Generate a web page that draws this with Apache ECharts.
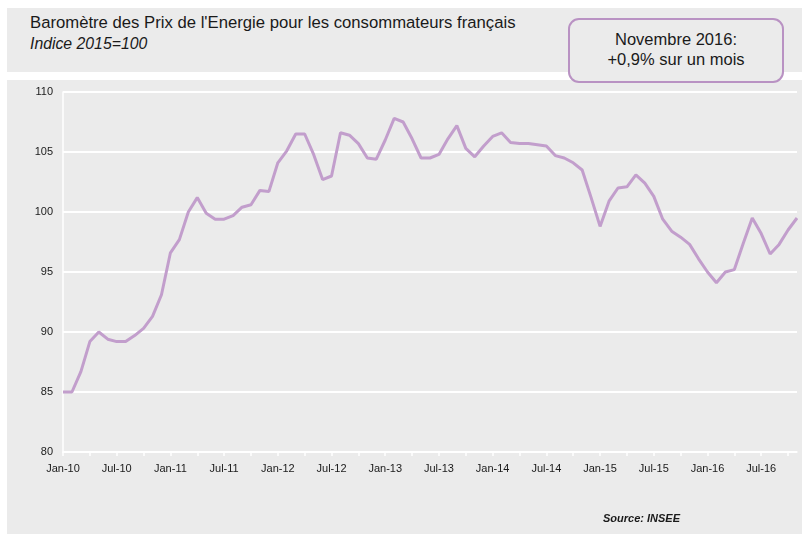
<!DOCTYPE html>
<html>
<head>
<meta charset="utf-8">
<title>Baromètre des Prix de l'Energie</title>
<script src="https://cdn.jsdelivr.net/npm/echarts@6/dist/echarts.min.js"></script>
<style>
  body { margin: 0; background: #fff; }
  #wrap { position: relative; width: 802px; height: 535px; font-family: 'Liberation Sans', Arial, sans-serif; }
  .panel { position: absolute; background: #ebebeb; }
  #head { left: 7px; top: 8px; width: 795px; height: 64px; }
  #body { left: 7px; top: 80px; width: 795px; height: 454px; }
  #t1 { position: absolute; left: 30px; top: 13px; font-size: 16.7px; color: #1a1a1a; }
  #t2 { position: absolute; left: 30px; top: 35px; font-size: 15.8px; font-style: italic; color: #1a1a1a; }
  #box {
    position: absolute; left: 568px; top: 18px; width: 216px; height: 65px;
    border: 2px solid #b992c3; border-radius: 11px; background: #ebebeb;
    text-align: center; font-size: 16.5px; line-height: 20px; color: #1a1a1a;
    box-sizing: border-box; padding-top: 9px; z-index: 2;
  }
  #chart { position: absolute; left: 0; top: 0; width: 802px; height: 535px; z-index: 1; }
</style>
</head>
<body>
<div id="wrap">
  <div class="panel" id="head"></div>
  <div class="panel" id="body"></div>
  <div id="t1">Baromètre des Prix de l'Energie pour les consommateurs français</div>
  <div id="t2">Indice 2015=100</div>
  <div id="chart"></div>
  <div id="box">Novembre 2016:<br>+0,9% sur un mois</div>
</div>
<script>
// mois abrégés et années de la série (janv. 2010 -> nov. 2016)
var monthNames = ['Jan', 'Feb', 'Mar', 'Apr', 'May', 'Jun', 'Jul', 'Aug', 'Sep', 'Oct', 'Nov', 'Dec']
var years = ['10', '11', '12', '13', '14', '15', '16']
var lastMonthCount = 11 // 2016 s'arrête en novembre

// indice 2015=100
var indexValues = [
  85.0, 85.0, 86.7, 89.2, 90.0, 89.4, 89.2, 89.2, 89.7, 90.3, 91.3, 93.1,
  96.6, 97.7, 100.0, 101.2, 99.9, 99.4, 99.4, 99.7, 100.4, 100.6, 101.8, 101.7,
  104.1, 105.1, 106.5, 106.5, 104.8, 102.7, 103.0, 106.6, 106.4, 105.7, 104.5, 104.4,
  106.0, 107.8, 107.5, 106.1, 104.5, 104.5, 104.8, 106.1, 107.2, 105.3, 104.6, 105.5,
  106.3, 106.6, 105.8, 105.7, 105.7, 105.6, 105.5, 104.7, 104.5, 104.1, 103.5, 101.2,
  98.8, 100.9, 102.0, 102.1, 103.1, 102.4, 101.3, 99.4, 98.4, 97.9, 97.3, 96.1,
  95.0, 94.1, 95.0, 95.2, 97.4, 99.5, 98.2, 96.5, 97.3, 98.5, 99.5
]

var categories = []
years.forEach(function(y, yi) {
  var n = yi === years.length - 1 ? lastMonthCount : 12
  for (var m = 0; m < n; m++) {
    categories.push(monthNames[m] + '-' + y)
  }
})

var chart = echarts.init(document.getElementById('chart'))
chart.setOption({
  animation: false,
  textStyle: { fontFamily: 'Liberation Sans, Arial, sans-serif' },
  grid: { left: 63, right: 5, top: 92, bottom: 83 },
  xAxis: {
    type: 'category',
    data: categories,
    boundaryGap: false,
    axisLine: { lineStyle: { color: '#ffffff', width: 1.5 } },
    axisTick: { interval: 2, length: 4, lineStyle: { color: '#ffffff', width: 1.5 } },
    axisLabel: { interval: 5, color: '#1a1a1a', fontSize: 11, margin: 11 },
    splitLine: { show: false }
  },
  yAxis: {
    type: 'value',
    min: 80,
    max: 110,
    interval: 5,
    axisLine: { show: true, lineStyle: { color: '#ffffff', width: 1.5 } },
    axisTick: { show: false },
    axisLabel: { color: '#1a1a1a', fontSize: 11, margin: 10 },
    splitLine: { lineStyle: { color: '#ffffff', width: 2 } }
  },
  graphic: [
    {
      type: 'text',
      left: 603,
      top: 513,
      style: {
        text: 'Source: INSEE',
        fontSize: 11,
        fontStyle: 'italic',
        fontWeight: 'bold',
        fill: '#1a1a1a'
      }
    }
  ],
  series: [
    {
      type: 'line',
      data: indexValues,
      symbol: 'none',
      lineStyle: { color: '#c29ecc', width: 3 }
    }
  ]
})
</script>
</body>
</html>
